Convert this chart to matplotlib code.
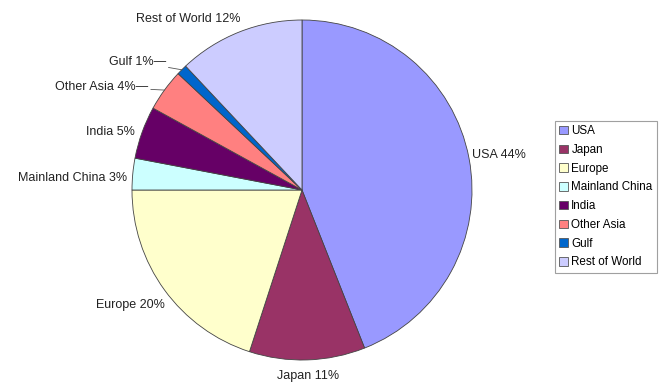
import numpy as np
import matplotlib.pyplot as plt
from matplotlib.patches import Patch

plt.rcParams['font.family'] = ['Liberation Sans', 'DejaVu Sans']

regions = ['USA', 'Japan', 'Europe', 'Mainland China', 'India',
           'Other Asia', 'Gulf', 'Rest of World']
shares = [44, 11, 20, 3, 5, 4, 1, 12]
colors = ['#9999FF', '#993366', '#FFFFCC', '#CCFFFF', '#660066',
          '#FF8080', '#0066CC', '#CCCCFF']

# label placement tweaks: (distance, angle nudge in degrees, ha, va, leader)
label_style = [
    (1.02, 1, 'left', 'center', False),
    (1.06, 0, 'center', 'top', False),
    (1.05, 4, 'right', 'center', False),
    (1.03, 1.5, 'right', 'center', False),
    (1.04, 0.5, 'right', 'center', False),
    (1.09, 2.2, 'right', 'center', True),
    (1.10, 1.8, 'right', 'center', True),
    (1.21, 12, 'center', 'center', False),
]

fig = plt.figure(figsize=(6.64, 3.9), dpi=100)
W, H = 664, 390
cx, cy, r = 302, 190, 170
ax = fig.add_axes([(cx - r) / W, (H - cy - r) / H, 2 * r / W, 2 * r / H])

wedges, _ = ax.pie(shares, colors=colors, startangle=90, counterclock=False,
                   radius=1, wedgeprops=dict(edgecolor='#444444', linewidth=0.6))
ax.set_xlim(-1, 1)
ax.set_ylim(-1, 1)
ax.set_aspect('equal')
ax.axis('off')

for w, name, val, (dist, nudge, ha, va, leader) in zip(wedges, regions, shares, label_style):
    mid = np.deg2rad((w.theta1 + w.theta2) / 2)
    ang = mid + np.deg2rad(nudge)
    tx, ty = dist * np.cos(ang), dist * np.sin(ang)
    text = '%s %d%%' % (name, val)
    if leader:
        ax.annotate(text + '\u2014', xy=(np.cos(mid), np.sin(mid)), xytext=(tx, ty),
                    ha=ha, va=va, fontsize=9, color='#222222',
                    arrowprops=dict(arrowstyle='-', color='#555555', lw=0.6,
                                    shrinkA=0, shrinkB=0))
    else:
        ax.text(tx, ty, text, ha=ha, va=va, fontsize=9, color='#222222')

handles = [Patch(facecolor=c, edgecolor='#555555', linewidth=0.6) for c in colors]
leg = fig.legend(handles, regions, loc='upper left',
                 bbox_to_anchor=(555 / W, 1 - 121 / H), fontsize=8.4,
                 frameon=True, fancybox=False, edgecolor='#888888',
                 handlelength=0.75, handleheight=0.75, handletextpad=0.3,
                 labelspacing=0.58, borderpad=0.35, borderaxespad=0)
leg.get_frame().set_linewidth(0.8)

fig.savefig('out.png', dpi=100)
